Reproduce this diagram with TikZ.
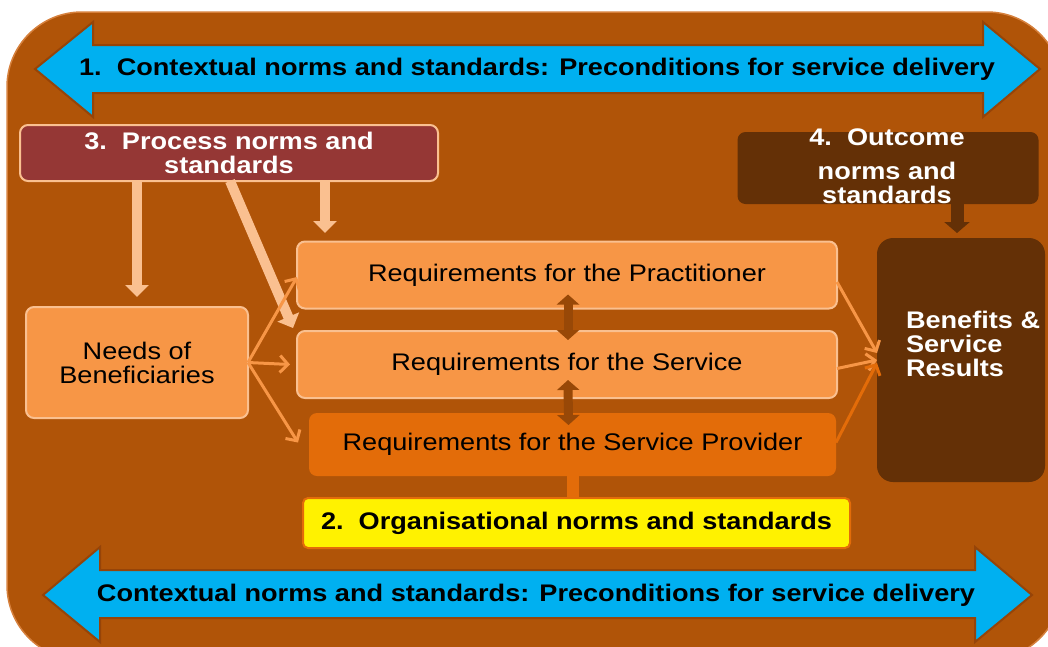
\documentclass[tikz,border=0pt]{standalone}
\usepackage{fontspec}
\setmainfont{Liberation Sans}[FakeStretch=1.13]
\usetikzlibrary{arrows.meta, positioning, calc}

\definecolor{bgbrown}{RGB}{176,84,8}
\definecolor{bgedge}{RGB}{214,128,60}
\definecolor{bandblue}{RGB}{0,176,240}
\definecolor{bandedge}{RGB}{150,68,8}
\definecolor{procred}{RGB}{149,55,53}
\definecolor{peach}{RGB}{250,192,144}
\definecolor{lightorange}{RGB}{247,150,70}
\definecolor{deeporange}{RGB}{227,108,9}
\definecolor{darkbrown}{RGB}{100,48,6}
\definecolor{rustbrown}{RGB}{152,72,7}

\begin{document}
\begin{tikzpicture}[x=1pt, y=-1pt,
    every node/.style={font=\fontsize{24}{24}\selectfont, outer sep=0pt, inner sep=2pt},
    boldtext/.style={font=\fontsize{24}{24}\selectfont\bfseries},
    box/.style={rectangle, rounded corners=8pt, align=center},
    reqbox/.style={box, fill=lightorange, draw=peach, line width=2pt, minimum width=540, minimum height=67},
    band/.style={fill=bandblue, draw=bandedge, line width=2pt},
    thinarrow/.style={draw=lightorange, line width=3pt, -{Straight Barb[length=8pt, width=17pt]}},
    procarrow/.style={draw=peach, line width=10pt, -{Triangle[length=12pt, width=23pt]}},
    linkarrow/.style={draw=rustbrown, line width=9pt, {Triangle[length=10pt, width=22pt]}-{Triangle[length=10pt, width=22pt]}}
  ]
  \useasboundingbox (0,0) rectangle (1048,646);
  \clip (0,0) rectangle (1048,646);

  % background panel
  \filldraw[fill=bgbrown, draw=bgedge, line width=1.5pt, rounded corners=75pt] (7,12) rectangle (1062,660);

  % contextual bands
  \filldraw[band] (35,69) -- (93,22) -- (93,45) -- (983,45) -- (983,22) -- (1040,69)
    -- (983,117) -- (983,93) -- (93,93) -- (93,117) -- cycle;
  \filldraw[band] (43,595) -- (100,547) -- (100,570) -- (975,570) -- (975,547) -- (1032,595)
    -- (975,642) -- (975,618) -- (100,618) -- (100,642) -- cycle;
  \node[boldtext] (ctxtop) at (537,69) {1.\ \ Contextual norms and standards: Preconditions for service delivery};
  \node[boldtext] (ctxbot) at (536,595) {Contextual norms and standards: Preconditions for service delivery};

  % norm boxes
  \node[box, boldtext, fill=procred, draw=peach, line width=2pt, text=white,
    minimum width=418, minimum height=56] (proc) at (229,153) {3.\ \ Process norms and\\standards};
  \node[box, fill=darkbrown, minimum width=301, minimum height=72] (outc) at (888,168) {};
  \node[boldtext, text=white, align=center] (outctext) at (887,166) {4.\ \ Outcome\\[10pt]norms and\\standards};

  % main boxes
  \node[box, fill=lightorange, draw=peach, line width=2pt, minimum width=222, minimum height=111] (needs) at (137,362.5) {Needs of\\Beneficiaries};
  \node[reqbox] (prac) at (567,275) {Requirements for the Practitioner};
  \node[reqbox] (serv) at (567,364.5) {Requirements for the Service};
  \node[box, fill=deeporange, minimum width=527, minimum height=63] (prov) at (572.5,444.5) {Requirements for the Service Provider};
  \node[box, rounded corners=16pt, fill=darkbrown, minimum width=168, minimum height=244] (ben) at (961,360) {};
  \node[boldtext, text=white, anchor=west, align=left] (bentext) at (904,344) {Benefits \&\\Service\\Results};
  \node[box, boldtext, rounded corners=5pt, fill=yellow, draw=deeporange, line width=2pt,
    minimum width=547, minimum height=50] (org) at (576.5,523) {2.\ \ Organisational norms and standards};

  % process arrows
  \draw[procarrow] (proc.south -| needs.north) -- ([yshift=10pt]needs.north);
  \draw[procarrow] ([xshift=96pt]proc.south) -- ++(0,52);
  \draw[procarrow] ([xshift=1pt]proc.south) -- ++(63,147);

  % needs to requirements
  \draw[thinarrow] (needs.east) -- ([yshift=-2pt]prac.west);
  \draw[thinarrow] (needs.east) -- ([xshift=-7pt]serv.west);
  \draw[thinarrow] (needs.east) -- ([xshift=-11pt,yshift=2pt]prov.west);

  % links between requirements
  \draw[linkarrow] ([xshift=1pt,yshift=14pt]prac.south) -- ([xshift=1pt,yshift=-9pt]serv.north);
  \draw[linkarrow] ([xshift=1pt,yshift=18pt]serv.south) -- ([xshift=-4pt,yshift=-12pt]prov.north);

  % requirements to benefits
  \draw[thinarrow] ([yshift=-7pt]prac.east) -- ([yshift=7pt]ben.west);
  \draw[thinarrow] ([yshift=-4pt]serv.east) -- (ben.west);
  \draw[thinarrow, draw=deeporange] ([yshift=2pt]prov.east) -- ([yshift=-3pt]ben.west);

  % outcome and organisational links
  \draw[draw=darkbrown, line width=13pt, -{Triangle[length=11pt, width=25pt]}] ([xshift=69pt]outc.south) -- ++(0,29);
  \draw[draw=deeporange, line width=12pt] (prov.south) -- (prov.south |- org.north);
\end{tikzpicture}
\end{document}
